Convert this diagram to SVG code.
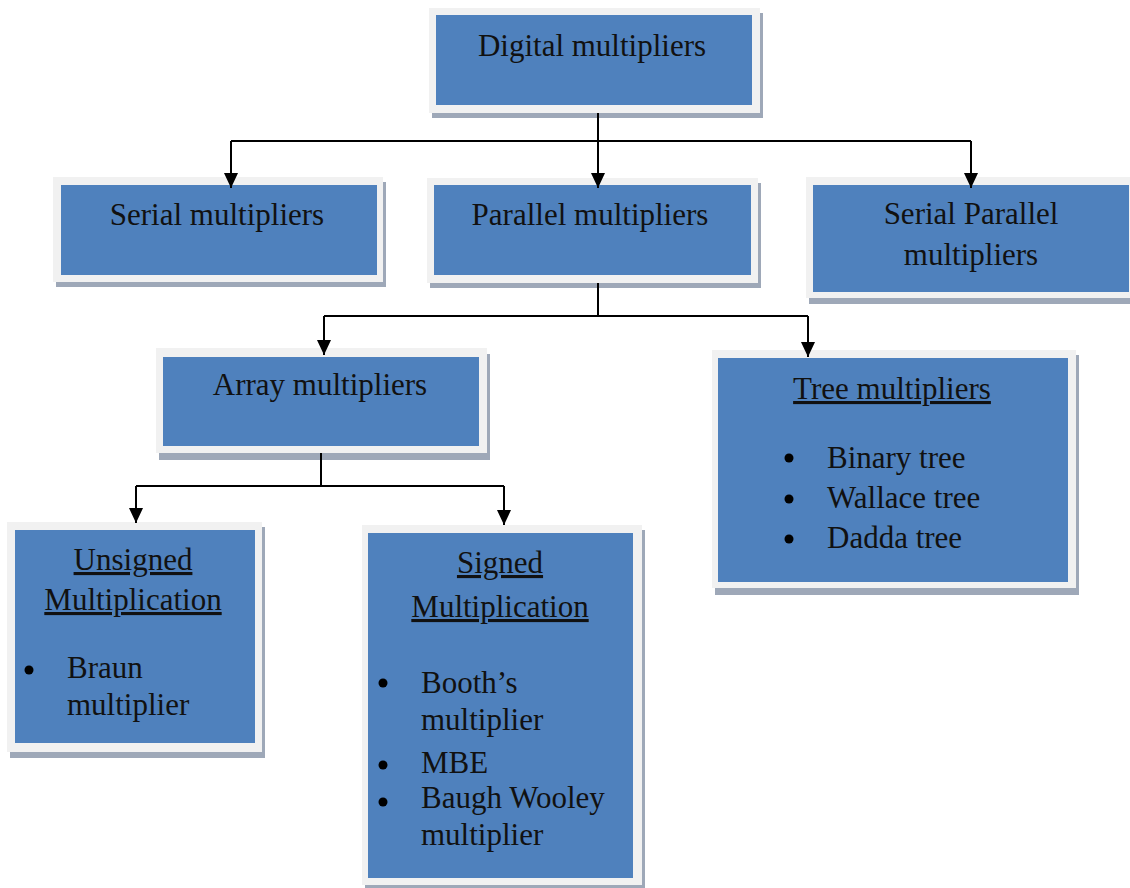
<svg xmlns="http://www.w3.org/2000/svg" width="1130" height="888" viewBox="0 0 1130 888">
<defs>
<marker id="arr" markerUnits="userSpaceOnUse" markerWidth="16" markerHeight="16" refX="15" refY="7" orient="auto">
<path d="M0,0 L15,7 L0,14 z" fill="#000"/>
</marker>
</defs>
<style>
.sh{fill:#9ea8b8}
.fr{fill:#f1f1f1}
.bx{fill:#4f81bd}
text{font-family:"Liberation Serif","Times New Roman",serif;font-size:31px;fill:#111}
.c{text-anchor:middle}
.u{text-decoration:underline}
.ln{fill:none;stroke:#000;stroke-width:2}
.bl{fill:#000}
</style>
<rect width="1130" height="888" fill="#fff"/>
<g id="digital">
<rect class="sh" x="432" y="13" width="331" height="105"/>
<rect class="fr" x="429" y="8" width="331" height="105"/>
<rect class="bx" x="436" y="15" width="316" height="90"/>
<text class="c" x="592" y="56">Digital multipliers</text>
</g>
<g id="serial">
<rect class="sh" x="56" y="182" width="330" height="105"/>
<rect class="fr" x="53" y="177" width="330" height="105"/>
<rect class="bx" x="61" y="185" width="316" height="90"/>
<text class="c" x="217" y="225">Serial multipliers</text>
</g>
<g id="parallel">
<rect class="sh" x="430" y="183" width="331" height="105"/>
<rect class="fr" x="427" y="178" width="331" height="105"/>
<rect class="bx" x="434" y="185" width="317" height="90"/>
<text class="c" x="590" y="225">Parallel multipliers</text>
</g>
<g id="serialparallel">
<rect class="sh" x="809" y="182" width="330" height="122"/>
<rect class="fr" x="806" y="177" width="330" height="121"/>
<rect class="bx" x="813" y="185" width="316" height="107"/>
<text class="c" x="971" y="224">Serial Parallel</text>
<text class="c" x="971" y="265">multipliers</text>
</g>
<g id="array">
<rect class="sh" x="159" y="354" width="331" height="106"/>
<rect class="fr" x="156" y="348" width="331" height="105"/>
<rect class="bx" x="163" y="357" width="316" height="89"/>
<text class="c" x="320" y="395">Array multipliers</text>
</g>
<g id="tree">
<rect class="sh" x="715" y="355" width="364" height="240"/>
<rect class="fr" x="712" y="350" width="364" height="238"/>
<rect class="bx" x="718" y="358" width="350" height="224"/>
<text class="c u" x="892" y="399">Tree multipliers</text>
<circle class="bl" cx="789" cy="458" r="4.5"/>
<circle class="bl" cx="789" cy="499" r="4.5"/>
<circle class="bl" cx="789" cy="539" r="4.5"/>
<text x="827" y="468">Binary tree</text>
<text x="827" y="508">Wallace tree</text>
<text x="827" y="548">Dadda tree</text>
</g>
<g id="unsigned">
<rect class="sh" x="10" y="527" width="255" height="231"/>
<rect class="fr" x="7" y="522" width="255" height="230"/>
<rect class="bx" x="15" y="530" width="240" height="213"/>
<text class="c u" x="133" y="570">Unsigned</text>
<text class="c u" x="133" y="610">Multiplication</text>
<circle class="bl" cx="29" cy="670" r="4.5"/>
<text x="67" y="678">Braun</text>
<text x="67" y="715">multiplier</text>
</g>
<g id="signed">
<rect class="sh" x="365" y="530" width="280" height="358"/>
<rect class="fr" x="362" y="525" width="280" height="360"/>
<rect class="bx" x="368" y="533" width="265" height="345"/>
<text class="c u" x="500" y="573">Signed</text>
<text class="c u" x="500" y="617">Multiplication</text>
<circle class="bl" cx="383" cy="683" r="4.5"/>
<circle class="bl" cx="383" cy="765" r="4.5"/>
<circle class="bl" cx="383" cy="802" r="4.5"/>
<text x="421" y="693">Booth’s</text>
<text x="421" y="730">multiplier</text>
<text x="421" y="773">MBE</text>
<text x="421" y="808">Baugh Wooley</text>
<text x="421" y="845">multiplier</text>
</g>
<g id="connectors">
<path class="ln" d="M598,113 V141 M231,141 H971"/>
<path class="ln" d="M231,141 V188" marker-end="url(#arr)"/>
<path class="ln" d="M598,141 V188" marker-end="url(#arr)"/>
<path class="ln" d="M971,141 V188" marker-end="url(#arr)"/>
<path class="ln" d="M598,283 V316 M324,316 H808"/>
<path class="ln" d="M324,316 V355" marker-end="url(#arr)"/>
<path class="ln" d="M808,316 V357" marker-end="url(#arr)"/>
<path class="ln" d="M321,453 V486 M136,486 H504"/>
<path class="ln" d="M136,486 V523" marker-end="url(#arr)"/>
<path class="ln" d="M504,486 V525" marker-end="url(#arr)"/>
</g>
</svg>
